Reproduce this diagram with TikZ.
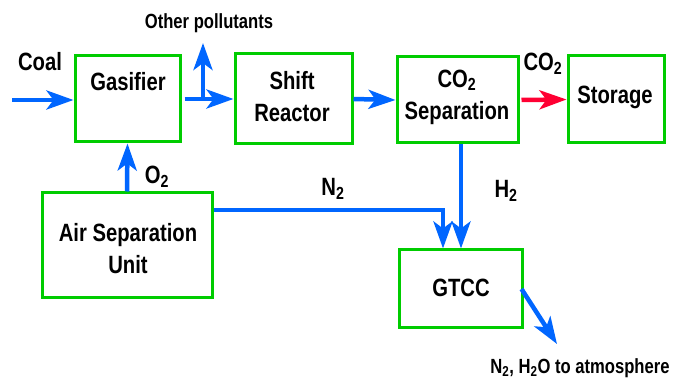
\documentclass[tikz,border=0pt]{standalone}
\usepackage{fontspec}
\setmainfont{Liberation Sans}[FakeStretch=0.81]
\usetikzlibrary{arrows.meta,calc}
\definecolor{fblue}{RGB}{0,102,255}
\definecolor{fgreen}{RGB}{0,204,0}
\definecolor{fred}{RGB}{255,0,51}
\begin{document}
\begin{tikzpicture}[x=1pt,y=-1pt,
  box/.style={draw=fgreen,line width=3pt,fill=white,inner sep=0pt},
  txt/.style={font=\bfseries\fontsize{25}{32}\selectfont,align=center,inner sep=0pt},
  small/.style={font=\bfseries\fontsize{20.5}{24}\selectfont,inner sep=0pt},
  flow/.style={draw=fblue,line width=4.5pt,-{Stealth[length=27pt,width=19pt,inset=7pt]}},
]
\useasboundingbox[fill=white] (0,0) rectangle (678,379);
% boxes
\node[box,minimum width=105pt,minimum height=86pt] (gas) at (127.5,99) {};
\node[box,minimum width=117pt,minimum height=90pt] (shift) at (293.5,99) {};
\node[box,minimum width=121pt,minimum height=86pt] (sep) at (457.5,100) {};
\node[box,minimum width=96pt,minimum height=87pt] (sto) at (616,99.5) {};
\node[box,minimum width=170pt,minimum height=105pt] (asu) at (127,245.5) {};
\node[box,minimum width=123pt,minimum height=78pt] (gtcc) at (460.5,289) {};
% box texts
\node[txt] (gast) at (128,82) {Gasifier};
\node[txt] (shiftt) at (292,97) {Shift\\Reactor};
\node[txt] (sept) at (457,97) {CO\textsubscript{2}\\Separation};
\node[txt] (stot) at (615,97) {Storage};
\node[txt] (asut) at (128,249) {Air Separation\\Unit};
\node[txt] (gtcct) at (461,288) {GTCC};
% free ends
\coordinate (coalin) at (12,100);
\coordinate (br) at (203,99);
\coordinate (op) at (203,43);
\coordinate (n2c) at (443,210);
\coordinate (ex) at (557,344);
% connectors
\draw[flow] (coalin) -- (gas.west |- coalin);
\draw[flow] (gas.east) ++(3,0) -- (shift.west);
\draw[flow] (br) -- (op);
\draw[flow] (shift.east) -- (sep.west);
\draw[flow,draw=fred] (sep.east) ++(2,0) -- (sto.west);
\draw[flow] (asu.north) -- (gas.south);
\draw[flow] (asu.east |- n2c) -- (n2c) -- (n2c |- gtcc.north);
\draw[flow] ($(sep.south)+(3.5,0)$) -- ($(sep.south |- gtcc.north)+(3.5,0)$);
\draw[flow] ($(gtcc.east)+(-2,0)$) -- (ex);
% labels
\node[txt] (coal) at (40,62) {Coal};
\node[small] (other) at (209,23) {Other pollutants};
\node[txt] (co2) at (543,64) {CO\textsubscript{2}};
\node[txt] (o2) at (157,177) {O\textsubscript{2}};
\node[txt] (n2) at (333,189) {N\textsubscript{2}};
\node[txt] (h2) at (506,191) {H\textsubscript{2}};
\node[small] (atm) at (580,368) {N\textsubscript{2}, H\textsubscript{2}O to atmosphere};
\end{tikzpicture}
\end{document}
